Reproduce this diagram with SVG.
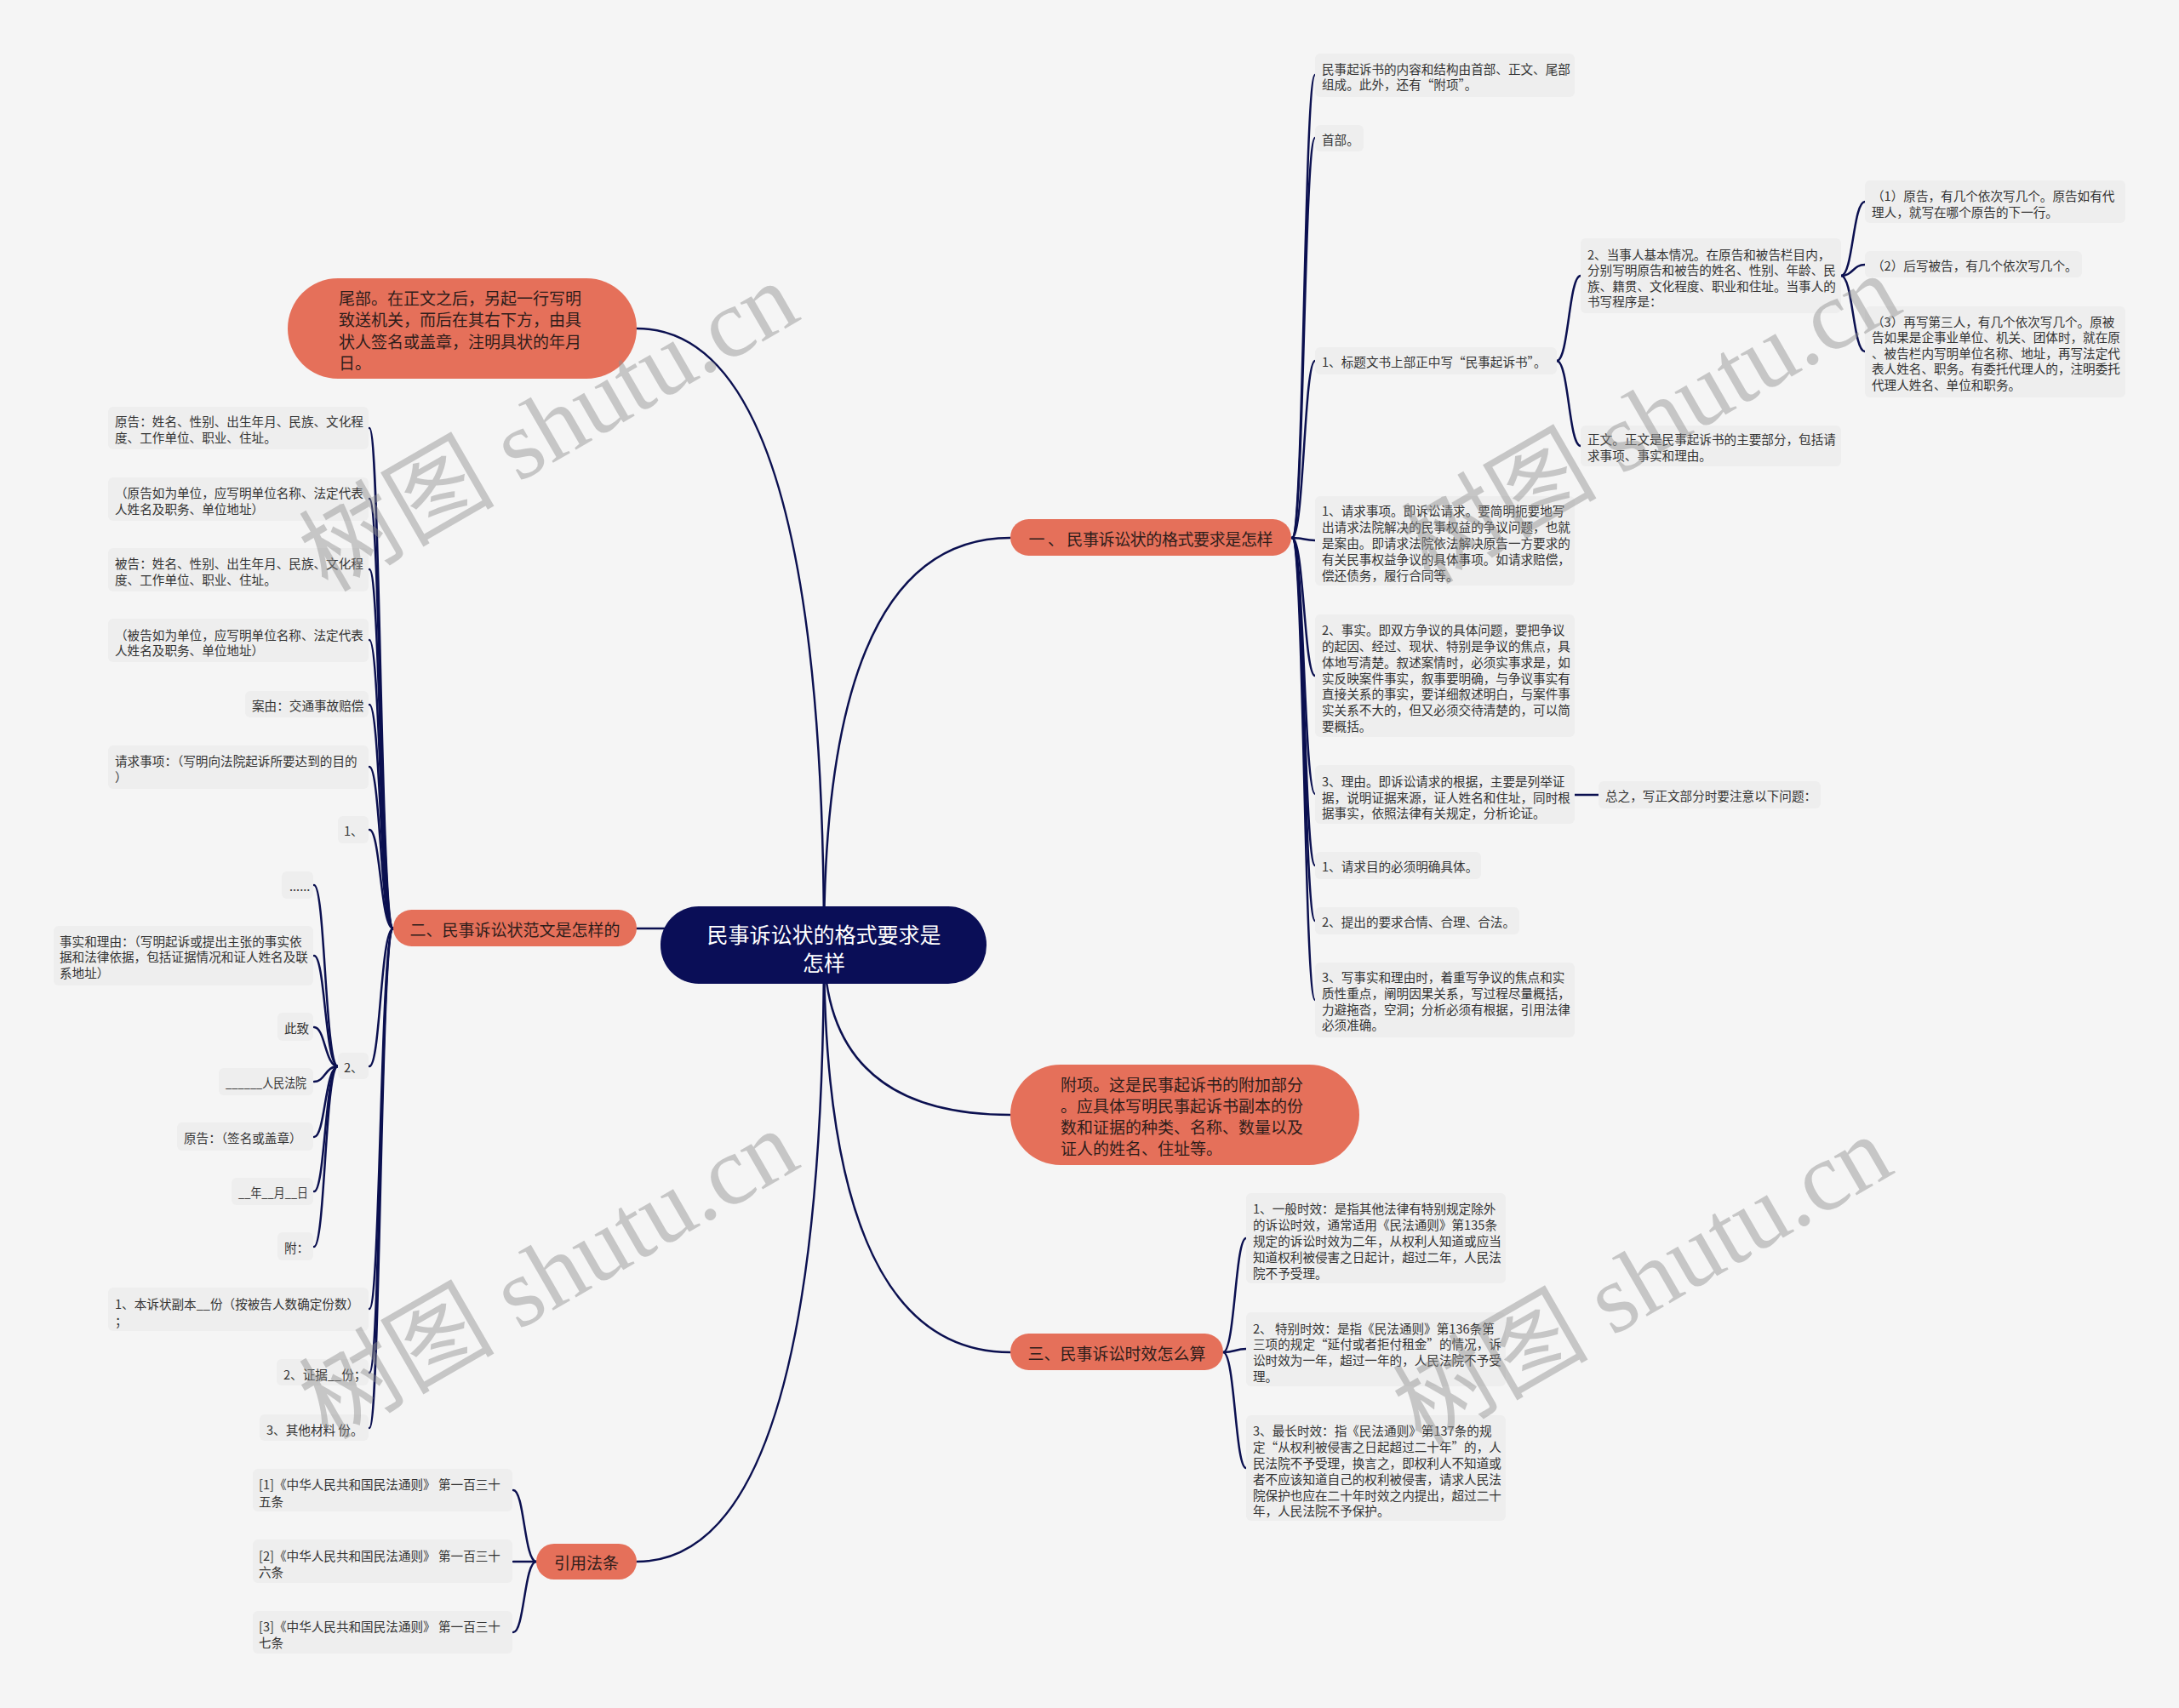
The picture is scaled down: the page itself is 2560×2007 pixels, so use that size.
<svg xmlns="http://www.w3.org/2000/svg" width="2560" height="2007" viewBox="0 0 2560 2007">
<style>
.bg{fill:#f5f5f5}
.box{fill:#eeeeee}
.t{font-family:"Noto Sans CJK SC","Noto Sans",sans-serif;font-size:14.6px;fill:#333333;dominant-baseline:central}
.o{fill:#e5705a}
.ot{font-family:"Noto Sans CJK SC","Noto Sans",sans-serif;font-size:19px;fill:#2e1d1a;dominant-baseline:central}
.ct{font-family:"Noto Sans CJK SC","Noto Sans",sans-serif;font-size:25px;fill:#ffffff;dominant-baseline:central;text-anchor:middle}
.c{fill:none;stroke:#0b1050;stroke-width:2.5;stroke-linecap:round}
.wm{font-family:"Liberation Serif","Noto Sans CJK SC",serif;font-size:115px;fill:#8f8f8f;opacity:0.45;text-anchor:middle;dominant-baseline:central}
</style>
<rect class="bg" x="0" y="0" width="2560" height="2007"/>

<g id="connectors">
<path class="c" d="M968 1110 Q968 632 1187 632"/>
<path class="c" d="M968 1110 Q968 1310 1187 1310"/>
<path class="c" d="M968 1110 Q968 1589 1187 1589"/>
<path class="c" d="M968 1110 Q968 386 748 386"/>
<path class="c" d="M968 1110 Q968 1835 748 1835"/>
<path class="c" d="M748 1091 L968 1091"/>
<path class="c" d="M1518 632 C1532 632 1532 88 1545 88"/>
<path class="c" d="M1518 632 C1532 632 1532 162 1545 162"/>
<path class="c" d="M1518 632 C1532 632 1532 424 1545 424"/>
<path class="c" d="M1518 632 C1532 632 1532 635 1545 635"/>
<path class="c" d="M1518 632 C1532 632 1532 794 1545 794"/>
<path class="c" d="M1518 632 C1532 632 1532 933 1545 933"/>
<path class="c" d="M1518 632 C1532 632 1532 1017 1545 1017"/>
<path class="c" d="M1518 632 C1532 632 1532 1082 1545 1082"/>
<path class="c" d="M1518 632 C1532 632 1532 1175 1545 1175"/>
<path class="c" d="M1829 424 C1843 424 1843 324 1857 324"/>
<path class="c" d="M1829 424 C1843 424 1843 524 1857 524"/>
<path class="c" d="M2163 324 C2177 324 2177 237 2191 237"/>
<path class="c" d="M2163 324 C2177 324 2177 311 2191 311"/>
<path class="c" d="M2163 324 C2177 324 2177 413 2191 413"/>
<path class="c" d="M1850 934 L1878 934"/>
<path class="c" d="M1437 1589 C1451 1589 1451 1455 1464 1455"/>
<path class="c" d="M1437 1589 C1451 1589 1451 1585 1464 1585"/>
<path class="c" d="M1437 1589 C1451 1589 1451 1725 1464 1725"/>
<path class="c" d="M462 1091 C447 1091 447 503 434 503"/>
<path class="c" d="M462 1091 C447 1091 447 586 434 586"/>
<path class="c" d="M462 1091 C447 1091 447 669 434 669"/>
<path class="c" d="M462 1091 C447 1091 447 752 434 752"/>
<path class="c" d="M462 1091 C447 1091 447 828 434 828"/>
<path class="c" d="M462 1091 C447 1091 447 901 434 901"/>
<path class="c" d="M462 1091 C447 1091 447 975 434 975"/>
<path class="c" d="M462 1091 C447 1091 447 1253 434 1253"/>
<path class="c" d="M462 1091 C447 1091 447 1538 434 1538"/>
<path class="c" d="M462 1091 C447 1091 447 1613 434 1613"/>
<path class="c" d="M462 1091 C447 1091 447 1678 434 1678"/>
<path class="c" d="M397 1253 C382 1253 382 1040 369 1040"/>
<path class="c" d="M397 1253 C382 1253 382 1123 369 1123"/>
<path class="c" d="M397 1253 C382 1253 382 1207 369 1207"/>
<path class="c" d="M397 1253 C382 1253 382 1271 369 1271"/>
<path class="c" d="M397 1253 C382 1253 382 1336 369 1336"/>
<path class="c" d="M397 1253 C382 1253 382 1400 369 1400"/>
<path class="c" d="M397 1253 C382 1253 382 1465 369 1465"/>
<path class="c" d="M630 1835 C616 1835 616 1751 603 1751"/>
<path class="c" d="M630 1835 C616 1835 616 1835 603 1835"/>
<path class="c" d="M630 1835 C616 1835 616 1918 603 1918"/>
</g>

<g id="center">
<rect x="776" y="1065" width="383" height="91" rx="45" fill="#0a0e57"/>
<text class="ct"><tspan x="968" y="1097">民事诉讼状的格式要求是</tspan><tspan x="968" y="1130">怎样</tspan></text>
</g>

<g id="b1">
<rect class="o" x="1187" y="610" width="330" height="43" rx="21.5"/>
<text class="ot" x="1352" y="632" text-anchor="middle" textLength="287" lengthAdjust="spacing">一 、 民事诉讼状的格式要求是怎样</text>
</g>
<g id="b-fuxiang">
<rect class="o" x="1187" y="1251" width="410" height="118" rx="59"/>
<text class="ot"><tspan x="1246" y="1273">附项。这是民事起诉书的附加部分</tspan><tspan x="1246" y="1298">。应具体写明民事起诉书副本的份</tspan><tspan x="1246" y="1323">数和证据的种类、名称、数量以及</tspan><tspan x="1246" y="1348">证人的姓名、住址等。</tspan></text>
</g>
<g id="b3">
<rect class="o" x="1187" y="1567" width="250" height="43" rx="21.5"/>
<text class="ot" x="1312" y="1589" text-anchor="middle">三、民事诉讼时效怎么算</text>
</g>
<g id="b2">
<rect class="o" x="462" y="1069" width="286" height="43" rx="21.5"/>
<text class="ot" x="605" y="1091" text-anchor="middle">二、民事诉讼状范文是怎样的</text>
</g>
<g id="b-law">
<rect class="o" x="630" y="1814" width="118" height="42" rx="21"/>
<text class="ot" x="689" y="1835" text-anchor="middle">引用法条</text>
</g>
<g id="b-weibu">
<rect class="o" x="338" y="327" width="410" height="118" rx="59"/>
<text class="ot"><tspan x="398" y="349">尾部。在正文之后，另起一行写明</tspan><tspan x="398" y="374">致送机关，而后在其右下方，由具</tspan><tspan x="398" y="400">状人签名或盖章，注明具状的年月</tspan><tspan x="398" y="425">日。</tspan></text>
</g>

<g id="c1"><rect class="box" x="1545" y="63" width="305" height="51" rx="6"/>
<text class="t"><tspan x="1553" y="80">民事起诉书的内容和结构由首部、正文、尾部</tspan><tspan x="1553" y="98">组成。此外，还有“附项”。</tspan></text></g>
<g id="c2"><rect class="box" x="1545" y="147" width="57" height="31" rx="6"/>
<text class="t" x="1553" y="163">首部。</text></g>
<g id="c3"><rect class="box" x="1545" y="408" width="284" height="32" rx="6"/>
<text class="t" x="1553" y="424">1、标题文书上部正中写“民事起诉书”。</text></g>
<g id="d1"><rect class="box" x="1857" y="280" width="306" height="88" rx="6"/>
<text class="t"><tspan x="1865" y="298">2、当事人基本情况。在原告和被告栏目内，</tspan><tspan x="1865" y="316">分别写明原告和被告的姓名、性别、年龄、民</tspan><tspan x="1865" y="335">族、籍贯、文化程度、职业和住址。当事人的</tspan><tspan x="1865" y="353">书写程序是：</tspan></text></g>
<g id="d2"><rect class="box" x="1857" y="500" width="306" height="48" rx="6"/>
<text class="t"><tspan x="1865" y="515">正文。正文是民事起诉书的主要部分，包括请</tspan><tspan x="1865" y="534">求事项、事实和理由。</tspan></text></g>
<g id="e1"><rect class="box" x="2191" y="212" width="306" height="50" rx="6"/>
<text class="t"><tspan x="2199" y="229">（1）原告，有几个依次写几个。原告如有代</tspan><tspan x="2199" y="248">理人，就写在哪个原告的下一行。</tspan></text></g>
<g id="e2"><rect class="box" x="2191" y="295" width="255" height="31" rx="6"/>
<text class="t" x="2199" y="311">（2）后写被告，有几个依次写几个。</text></g>
<g id="e3"><rect class="box" x="2191" y="360" width="306" height="107" rx="6"/>
<text class="t"><tspan x="2199" y="377">（3）再写第三人，有几个依次写几个。原被</tspan><tspan x="2199" y="395">告如果是企事业单位、机关、团体时，就在原</tspan><tspan x="2199" y="414">、被告栏内写明单位名称、地址，再写法定代</tspan><tspan x="2199" y="432">表人姓名、职务。有委托代理人的，注明委托</tspan><tspan x="2199" y="451">代理人姓名、单位和职务。</tspan></text></g>
<g id="c4"><rect class="box" x="1545" y="583" width="305" height="105" rx="6"/>
<text class="t"><tspan x="1553" y="599">1、请求事项。即诉讼请求。要简明扼要地写</tspan><tspan x="1553" y="618">出请求法院解决的民事权益的争议问题，也就</tspan><tspan x="1553" y="637">是案由。即请求法院依法解决原告一方要求的</tspan><tspan x="1553" y="656">有关民事权益争议的具体事项。如请求赔偿，</tspan><tspan x="1553" y="675">偿还债务，履行合同等。</tspan></text></g>
<g id="c5"><rect class="box" x="1545" y="722" width="305" height="144" rx="6"/>
<text class="t"><tspan x="1553" y="739">2、事实。即双方争议的具体问题，要把争议</tspan><tspan x="1553" y="758">的起因、经过、现状、特别是争议的焦点，具</tspan><tspan x="1553" y="777">体地写清楚。叙述案情时，必须实事求是，如</tspan><tspan x="1553" y="796">实反映案件事实，叙事要明确，与争议事实有</tspan><tspan x="1553" y="814">直接关系的事实，要详细叙述明白，与案件事</tspan><tspan x="1553" y="833">实关系不大的，但又必须交待清楚的，可以简</tspan><tspan x="1553" y="852">要概括。</tspan></text></g>
<g id="c6"><rect class="box" x="1545" y="899" width="305" height="69" rx="6"/>
<text class="t"><tspan x="1553" y="917">3、理由。即诉讼请求的根据，主要是列举证</tspan><tspan x="1553" y="936">据，说明证据来源，证人姓名和住址，同时根</tspan><tspan x="1553" y="954">据事实，依照法律有关规定，分析论证。</tspan></text></g>
<g id="f1"><rect class="box" x="1878" y="918" width="261" height="32" rx="6"/>
<text class="t" x="1886" y="934">总之，写正文部分时要注意以下问题：</text></g>
<g id="c7"><rect class="box" x="1545" y="1001" width="195" height="32" rx="6"/>
<text class="t" x="1553" y="1017">1、请求目的必须明确具体。</text></g>
<g id="c8"><rect class="box" x="1545" y="1066" width="240" height="32" rx="6"/>
<text class="t" x="1553" y="1082">2、提出的要求合情、合理、合法。</text></g>
<g id="c9"><rect class="box" x="1545" y="1131" width="305" height="88" rx="6"/>
<text class="t"><tspan x="1553" y="1147">3、写事实和理由时，着重写争议的焦点和实</tspan><tspan x="1553" y="1166">质性重点，阐明因果关系，写过程尽量概括，</tspan><tspan x="1553" y="1185">力避拖沓，空洞；分析必须有根据，引用法律</tspan><tspan x="1553" y="1203">必须准确。</tspan></text></g>

<g id="t1"><rect class="box" x="1464" y="1402" width="305" height="106" rx="6"/>
<text class="t"><tspan x="1472" y="1419">1、一般时效：是指其他法律有特别规定除外</tspan><tspan x="1472" y="1438">的诉讼时效，通常适用《民法通则》第135条</tspan><tspan x="1472" y="1457">规定的诉讼时效为二年，从权利人知道或应当</tspan><tspan x="1472" y="1476">知道权利被侵害之日起计，超过二年，人民法</tspan><tspan x="1472" y="1495">院不予受理。</tspan></text></g>
<g id="t2"><rect class="box" x="1464" y="1542" width="305" height="87" rx="6"/>
<text class="t"><tspan x="1472" y="1560">2、 特别时效：是指《民法通则》第136条第</tspan><tspan x="1472" y="1578">三项的规定“延付或者拒付租金”的情况，诉</tspan><tspan x="1472" y="1597">讼时效为一年，超过一年的，人民法院不予受</tspan><tspan x="1472" y="1616">理。</tspan></text></g>
<g id="t3"><rect class="box" x="1464" y="1663" width="305" height="124" rx="6"/>
<text class="t"><tspan x="1472" y="1680">3、最长时效：指《民法通则》第137条的规</tspan><tspan x="1472" y="1699">定“从权利被侵害之日起超过二十年”的，人</tspan><tspan x="1472" y="1718">民法院不予受理，换言之，即权利人不知道或</tspan><tspan x="1472" y="1737">者不应该知道自己的权利被侵害，请求人民法</tspan><tspan x="1472" y="1756">院保护也应在二十年时效之内提出，超过二十</tspan><tspan x="1472" y="1774">年，人民法院不予保护。</tspan></text></g>

<g id="L1"><rect class="box" x="127" y="478" width="306" height="50" rx="6"/>
<text class="t"><tspan x="135" y="494">原告：姓名、性别、出生年月、民族、文化程</tspan><tspan x="135" y="513">度、工作单位、职业、住址。</tspan></text></g>
<g id="L2"><rect class="box" x="127" y="561" width="306" height="51" rx="6"/>
<text class="t"><tspan x="135" y="578">（原告如为单位，应写明单位名称、法定代表</tspan><tspan x="135" y="597">人姓名及职务、单位地址）</tspan></text></g>
<g id="L3"><rect class="box" x="127" y="644" width="306" height="51" rx="6"/>
<text class="t"><tspan x="135" y="661">被告：姓名、性别、出生年月、民族、文化程</tspan><tspan x="135" y="680">度、工作单位、职业、住址。</tspan></text></g>
<g id="L4"><rect class="box" x="127" y="727" width="306" height="51" rx="6"/>
<text class="t"><tspan x="135" y="745">（被告如为单位，应写明单位名称、法定代表</tspan><tspan x="135" y="763">人姓名及职务、单位地址）</tspan></text></g>
<g id="L5"><rect class="box" x="288" y="812" width="145" height="31" rx="6"/>
<text class="t" x="296" y="828">案由：交通事故赔偿</text></g>
<g id="L6"><rect class="box" x="127" y="876" width="306" height="51" rx="6"/>
<text class="t"><tspan x="135" y="893">请求事项：（写明向法院起诉所要达到的目的</tspan><tspan x="135" y="912">）</tspan></text></g>
<g id="L7"><rect class="box" x="397" y="959" width="36" height="32" rx="6"/>
<text class="t" x="404" y="975">1、</text></g>
<g id="L8"><rect class="box" x="397" y="1237" width="36" height="31" rx="6"/>
<text class="t" x="404" y="1253">2、</text></g>
<g id="m1"><rect class="box" x="331" y="1024" width="37" height="32" rx="6"/>
<text class="t" x="340" y="1040">......</text></g>
<g id="m2"><rect class="box" x="63" y="1088" width="305" height="70" rx="6"/>
<text class="t"><tspan x="70" y="1105">事实和理由：（写明起诉或提出主张的事实依</tspan><tspan x="70" y="1123">据和法律依据，包括证据情况和证人姓名及联</tspan><tspan x="70" y="1142">系地址）</tspan></text></g>
<g id="m3"><rect class="box" x="326" y="1190" width="42" height="33" rx="6"/>
<text class="t" x="334" y="1207">此致</text></g>
<g id="m4"><rect class="box" x="257" y="1255" width="111" height="32" rx="6"/>
<text class="t" x="265" y="1271" textLength="95" lengthAdjust="spacingAndGlyphs">______人民法院</text></g>
<g id="m5"><rect class="box" x="208" y="1319" width="160" height="33" rx="6"/>
<text class="t" x="216" y="1336">原告：（签名或盖章）</text></g>
<g id="m6"><rect class="box" x="272" y="1384" width="96" height="32" rx="6"/>
<text class="t" x="280" y="1400" textLength="82" lengthAdjust="spacingAndGlyphs">__年__月__日</text></g>
<g id="m7"><rect class="box" x="326" y="1448" width="42" height="33" rx="6"/>
<text class="t" x="334" y="1465">附：</text></g>
<g id="L9"><rect class="box" x="127" y="1513" width="306" height="51" rx="6"/>
<text class="t"><tspan x="135" y="1531">1、本诉状副本__份（按被告人数确定份数）</tspan><tspan x="135" y="1551">；</tspan></text></g>
<g id="L10"><rect class="box" x="325" y="1597" width="108" height="31" rx="6"/>
<text class="t" x="333" y="1614">2、证据__份；</text></g>
<g id="L11"><rect class="box" x="305" y="1662" width="128" height="31" rx="6"/>
<text class="t" x="313" y="1679">3、其他材料 份。</text></g>

<g id="r1"><rect class="box" x="297" y="1726" width="305" height="50" rx="6"/>
<text class="t"><tspan x="304" y="1743">[1]《中华人民共和国民法通则》 第一百三十</tspan><tspan x="304" y="1763">五条</tspan></text></g>
<g id="r2"><rect class="box" x="297" y="1809" width="305" height="51" rx="6"/>
<text class="t"><tspan x="304" y="1827">[2]《中华人民共和国民法通则》 第一百三十</tspan><tspan x="304" y="1846">六条</tspan></text></g>
<g id="r3"><rect class="box" x="297" y="1893" width="305" height="50" rx="6"/>
<text class="t"><tspan x="304" y="1910">[3]《中华人民共和国民法通则》 第一百三十</tspan><tspan x="304" y="1929">七条</tspan></text></g>

<g id="watermarks">
<text class="wm" transform="translate(645 502) rotate(-30)">树图 shutu.cn</text>
<text class="wm" transform="translate(645 1498) rotate(-30)">树图 shutu.cn</text>
<text class="wm" transform="translate(1940 493) rotate(-30)">树图 shutu.cn</text>
<text class="wm" transform="translate(1930 1505) rotate(-30)">树图 shutu.cn</text>
</g>
</svg>
